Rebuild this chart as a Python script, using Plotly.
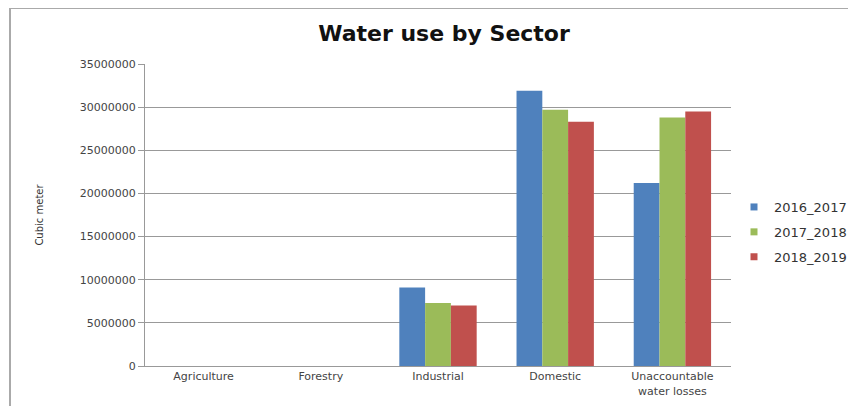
import plotly.graph_objects as go

# Data
sectors = ["Agriculture", "Forestry", "Industrial", "Domestic", "Unaccountable<br>water losses"]
y2016_2017 = [0, 0, 9100000, 31900000, 21200000]
y2017_2018 = [0, 0, 7300000, 29700000, 28800000]
y2018_2019 = [0, 0, 7000000, 28300000, 29500000]

series = [
    ("2016_2017", y2016_2017, "#4F81BD"),
    ("2017_2018", y2017_2018, "#9BBB59"),
    ("2018_2019", y2018_2019, "#C0504D"),
]

# page has an 8px body margin, so figure coords = screen coords - 8
W, H = 856, 406
L, R, T, B = 137, 133, 56, 48
pw, ph = W - L - R, H - T - B

FONT = "DejaVu Sans, Liberation Sans, Arial"

fig = go.Figure()
for name, vals, color in series:
    fig.add_trace(go.Bar(x=sectors, y=vals, name=name, marker_color=color,
                         marker_line_width=0, showlegend=False, legendgroup=name))
    # small square legend keys
    fig.add_trace(go.Scatter(x=[None], y=[None], mode="markers", name=name, legendgroup=name,
                             marker=dict(symbol="square", size=7, color=color)))

fig.update_layout(
    width=W, height=H,
    margin=dict(l=L, r=R, t=T, b=B),
    paper_bgcolor="white", plot_bgcolor="white",
    font=dict(family=FONT, size=11, color="#444"),
    title=dict(text="<b>Water use by Sector</b>", x=436 / W, xanchor="center",
               y=1 - 25 / H, yanchor="middle",
               font=dict(size=22, color="#111", family=FONT)),
    barmode="group", bargap=0.34, bargroupgap=0,
    legend=dict(x=(726 - L) / pw, xanchor="left", y=(H - B - 184) / ph, yanchor="top",
                font=dict(size=13, color="#333"), itemwidth=30, tracegroupgap=5),
    showlegend=True,
)
fig.update_xaxes(showline=True, linecolor="#999", linewidth=1, ticks="",
                 tickfont=dict(size=11, color="#444"))
fig.update_yaxes(range=[0, 35000000], dtick=5000000, tickformat="d",
                 showgrid=True, gridcolor="#999", gridwidth=1,
                 showline=True, linecolor="#999", linewidth=1,
                 ticks="outside", ticklen=6, tickcolor="#999",
                 zeroline=False, tickfont=dict(size=11, color="#444"),
                 title=dict(text="Cubic meter", font=dict(size=10, color="#333"), standoff=34))

# outer chart frame
fig.add_shape(type="rect", xref="paper", yref="paper",
              x0=(2 - L) / pw, x1=(W + 10 - L) / pw,
              y0=-(B + 10) / ph, y1=(H - B - 0) / ph,
              line=dict(color="#aaa", width=2), layer="below")

fig.write_html("out.html")
